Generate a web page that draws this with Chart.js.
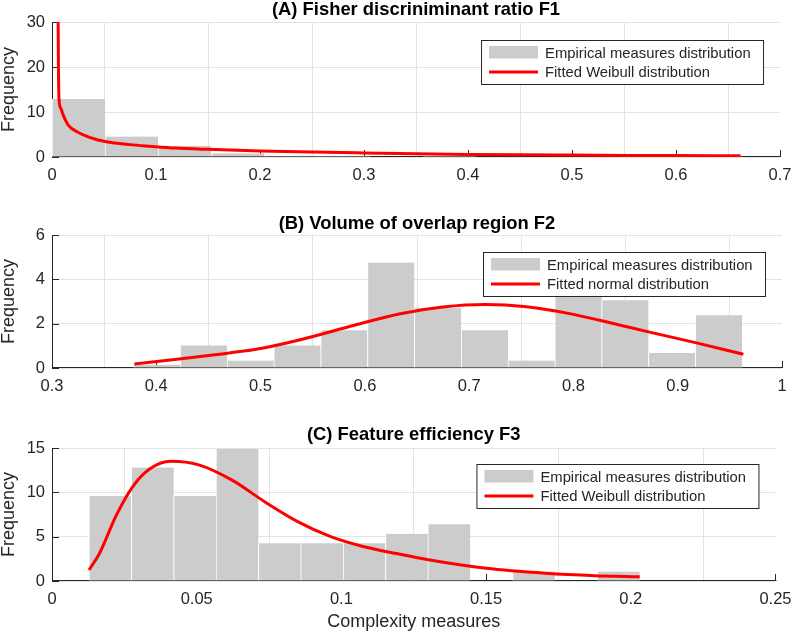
<!DOCTYPE html>
<html>
<head>
<meta charset="utf-8">
<script src="https://cdn.jsdelivr.net/npm/chart.js@4.4.0/dist/chart.umd.min.js"></script>
<style>
  body { margin: 0; background: #fff; }
  #wrap { position: relative; width: 800px; height: 635px; }
  canvas { position: absolute; left: 0; }
</style>
</head>
<body>
<div id="wrap">
  <canvas id="panelA" width="800" height="200" style="top:0"></canvas>
  <canvas id="panelB" width="800" height="200" style="top:200px"></canvas>
  <canvas id="panelC" width="800" height="235" style="top:400px"></canvas>
</div>
<script>
// (A) Fisher discriminant ratio F1 - histogram bins and fitted Weibull curve
const f1Centers = [0.0255, 0.0765, 0.1275, 0.1785, 0.2295, 0.2805, 0.3315, 0.3825, 0.4335, 0.4845, 0.5355, 0.5865, 0.6375];
const f1Freq = [12.9, 4.55, 2.5, 0.8, 0.3, 0.3, 0, 0.3, 0, 0, 0, 0, 0.3];
const f1FitX = [0.0058, 0.0062, 0.0068, 0.0085, 0.0108, 0.0156, 0.025, 0.041, 0.057, 0.075, 0.094, 0.118, 0.15, 0.2, 0.25, 0.3, 0.35, 0.4, 0.45, 0.5, 0.55, 0.6, 0.662];
const f1FitY = [34, 20, 12.7, 10.8, 9.3, 7.1, 5.5, 4.0, 3.2, 2.75, 2.4, 2.0, 1.7, 1.35, 1.1, 0.9, 0.72, 0.58, 0.48, 0.42, 0.36, 0.31, 0.26];

// (B) Volume of overlap region F2 - fitted normal curve
const f2Centers = [0.4005, 0.4454, 0.4903, 0.5352, 0.5801, 0.625, 0.6699, 0.7148, 0.7597, 0.8046, 0.8495, 0.8944, 0.9393];
const f2Freq = [0.15, 1.02, 0.34, 1.02, 1.7, 4.76, 2.72, 1.7, 0.34, 3.4, 3.06, 0.68, 2.38];
const f2FitX = [0.379, 0.424, 0.47, 0.5, 0.54, 0.59, 0.634, 0.675, 0.715, 0.755, 0.8, 0.842, 0.873, 0.921, 0.963];
const f2FitY = [0.18, 0.42, 0.68, 0.88, 1.3, 1.93, 2.45, 2.75, 2.86, 2.76, 2.42, 1.96, 1.62, 1.1, 0.62];

// (C) Feature efficiency F3 - fitted Weibull curve
const f3Centers = [0.02009, 0.03473, 0.04937, 0.06401, 0.07865, 0.09329, 0.10793, 0.12257, 0.13721, 0.15185, 0.16649, 0.18113, 0.19577];
const f3Freq = [9.6, 12.8, 9.6, 14.9, 4.27, 4.27, 4.27, 5.33, 6.4, 0, 1.07, 0, 1.07];
const f3FitX = [0.0128, 0.0164, 0.0222, 0.0278, 0.0336, 0.041, 0.0507, 0.0621, 0.0735, 0.0849, 0.0963, 0.1078, 0.119, 0.1306, 0.15, 0.1705, 0.1877, 0.2031];
const f3FitY = [1.24, 3.1, 7.4, 10.6, 12.6, 13.5, 13.1, 11.4, 8.94, 6.7, 5.0, 3.87, 3.1, 2.37, 1.43, 0.87, 0.6, 0.48];

const FONT = '"Liberation Sans", Arial, Helvetica, sans-serif';
const INK = '#262626';

// matlab style: dark left/bottom axis with inward ticks, bold title, boxed legend
const panelDecor = {
  id: 'panelDecor',
  beforeDatasetsDraw(chart) {
    const { ctx, chartArea: a, scales: { x, y } } = chart;
    ctx.save();
    ctx.strokeStyle = INK;
    ctx.lineWidth = 1;
    ctx.beginPath();
    ctx.moveTo(a.left + 0.5, a.top);
    ctx.lineTo(a.left + 0.5, a.bottom - 0.5);
    ctx.lineTo(a.right + 1, a.bottom - 0.5);
    x.ticks.forEach(t => {
      const px = Math.round(x.getPixelForValue(t.value)) + 0.5;
      ctx.moveTo(px, a.bottom);
      ctx.lineTo(px, a.bottom - 7);
    });
    y.ticks.forEach(t => {
      const py = Math.round(y.getPixelForValue(t.value)) + 0.5;
      ctx.moveTo(a.left, py);
      ctx.lineTo(a.left + 7, py);
    });
    ctx.stroke();
    ctx.restore();
  },
  afterDraw(chart, args, opts) {
    const { ctx, chartArea: a } = chart;
    const fit = chart.data.datasets[0];
    const bars = chart.data.datasets[1];
    ctx.save();
    ctx.fillStyle = '#000';
    ctx.font = 'bold 18.4px ' + FONT;
    ctx.textAlign = 'center';
    ctx.textBaseline = 'alphabetic';
    ctx.fillText(opts.title, (a.left + a.right) / 2, opts.titleY);

    const lx = a.right - 298.5, ly = a.top + opts.legendDy + 0.5;
    ctx.fillStyle = '#fff';
    ctx.fillRect(lx, ly, 282, 44);
    ctx.strokeStyle = INK;
    ctx.lineWidth = 1;
    ctx.strokeRect(lx, ly, 282, 44);
    ctx.fillStyle = bars.backgroundColor;
    ctx.fillRect(lx + 7.5, ly + 5.5, 49, 12.5);
    ctx.strokeStyle = fit.borderColor;
    ctx.lineWidth = 3;
    ctx.beginPath();
    ctx.moveTo(lx + 7.5, ly + 31.5);
    ctx.lineTo(lx + 56.5, ly + 31.5);
    ctx.stroke();
    ctx.fillStyle = INK;
    ctx.font = '14.8px ' + FONT;
    ctx.textAlign = 'left';
    ctx.textBaseline = 'middle';
    ctx.fillText(bars.label, lx + 63.5, ly + 13);
    ctx.fillText(fit.label, lx + 63.5, ly + 32);
    ctx.restore();
  }
};

function histChart(id, o) {
  const tickFont = { family: FONT, size: 16.5 };
  return new Chart(document.getElementById(id), {
    type: 'bar',
    data: {
      datasets: [
        {
          type: 'line',
          label: o.fitLabel,
          data: o.fitX.map((x, i) => ({ x: x, y: o.fitY[i] })),
          borderColor: '#ff0000',
          borderWidth: 3,
          pointRadius: 0,
          cubicInterpolationMode: 'monotone',
          order: 0
        },
        {
          type: 'bar',
          label: 'Empirical measures distribution',
          data: o.centers.map((x, i) => ({ x: x, y: o.freq[i] })),
          backgroundColor: '#cccccc',
          borderColor: '#ffffff',
          borderWidth: { left: 1, right: 0, top: 0, bottom: 0 },
          barPercentage: 1,
          categoryPercentage: 1,
          grouped: false,
          order: 1
        }
      ]
    },
    options: {
      responsive: false,
      animation: false,
      layout: { padding: { top: o.top, right: 18, bottom: 0, left: 0 } },
      scales: {
        x: {
          type: 'linear',
          min: o.xMin,
          max: o.xMax,
          offset: false,
          afterFit: s => { s.height = o.xAxisH; },
          ticks: {
            stepSize: o.xStep,
            padding: 8.5,
            color: INK,
            font: tickFont,
            maxRotation: 0,
            callback: v => String(+v.toFixed(3))
          },
          grid: { color: '#e3e3e3', drawTicks: false },
          border: { display: false },
          title: {
            display: !!o.xTitle,
            text: o.xTitle || '',
            color: INK,
            font: { family: FONT, size: 18 },
            padding: { top: 0, bottom: 2.5 }
          }
        },
        y: {
          min: 0,
          max: o.yMax,
          afterFit: s => { s.width = 52; },
          ticks: { stepSize: o.yStep, padding: 7, color: INK, font: tickFont },
          grid: { color: '#e3e3e3', drawTicks: false },
          border: { display: false },
          title: {
            display: true,
            text: 'Frequency',
            color: INK,
            font: { family: FONT, size: 18, lineHeight: 1.05 },
            padding: { top: 0, bottom: 0 }
          }
        }
      },
      plugins: {
        legend: { display: false },
        tooltip: { enabled: false },
        panelDecor: { title: o.title, titleY: o.titleY, legendDy: o.legendDy }
      }
    },
    plugins: [panelDecor]
  });
}

histChart('panelA', {
  title: '(A) Fisher discriniminant ratio F1', titleY: 15,
  fitLabel: 'Fitted Weibull distribution',
  centers: f1Centers, freq: f1Freq, fitX: f1FitX, fitY: f1FitY,
  xMin: 0, xMax: 0.7, xStep: 0.1, yMax: 30, yStep: 10,
  top: 22, xAxisH: 43, legendDy: 18
});

histChart('panelB', {
  title: '(B) Volume of overlap region F2', titleY: 28.5,
  fitLabel: 'Fitted normal distribution',
  centers: f2Centers, freq: f2Freq, fitX: f2FitX, fitY: f2FitY,
  xMin: 0.3, xMax: 1, xStep: 0.1, yMax: 6, yStep: 2,
  top: 35, xAxisH: 32, legendDy: 17
});

histChart('panelC', {
  title: '(C) Feature efficiency F3', titleY: 40,
  fitLabel: 'Fitted Weibull distribution',
  centers: f3Centers, freq: f3Freq, fitX: f3FitX, fitY: f3FitY,
  xMin: 0, xMax: 0.25, xStep: 0.05, yMax: 15, yStep: 5,
  xTitle: 'Complexity measures',
  top: 48, xAxisH: 54, legendDy: 16
});
</script>
</body>
</html>
